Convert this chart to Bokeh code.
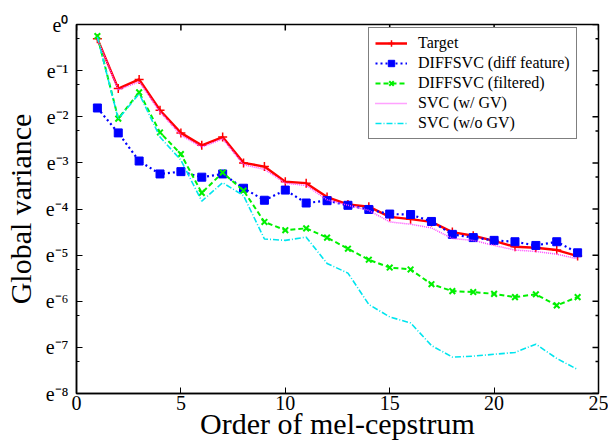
import numpy as np
from bokeh.plotting import figure
from bokeh.models import FixedTicker
from bokeh.embed import file_html
from bokeh.resources import INLINE

# Order of mel-cepstrum
order = list(range(1, 25))

# Global variance, given as natural-log exponents (value = e^x)
target = [-0.31, -1.39, -1.19, -1.86, -2.35, -2.62, -2.44, -3.00, -3.08, -3.41, -3.44, -3.74,
          -3.90, -3.95, -4.17, -4.22, -4.28, -4.50, -4.58, -4.69, -4.82, -4.84, -4.89, -5.02]
diff_feature = [-1.81, -2.35, -2.96, -3.24, -3.19, -3.31, -3.24, -3.55, -3.81, -3.59, -3.87, -3.82,
                -3.92, -4.01, -4.11, -4.12, -4.27, -4.55, -4.62, -4.68, -4.71, -4.79, -4.71, -4.95]
filtered = [-0.25, -2.04, -1.47, -2.34, -2.81, -3.65, -3.21, -3.60, -4.28, -4.46, -4.42, -4.62,
            -4.86, -5.10, -5.27, -5.31, -5.63, -5.78, -5.80, -5.84, -5.91, -5.85, -6.09, -5.91]
svc_gv = [-0.31, -1.42, -1.24, -1.90, -2.40, -2.66, -2.48, -3.04, -3.14, -3.44, -3.49, -3.80,
          -3.92, -4.03, -4.28, -4.33, -4.41, -4.64, -4.68, -4.79, -4.89, -4.92, -4.98, -5.08]
svc_nogv = [-0.27, -2.05, -1.50, -2.44, -2.94, -3.83, -3.43, -3.71, -4.65, -4.68, -4.61, -5.18,
            -5.39, -6.07, -6.34, -6.47, -6.96, -7.21, -7.19, -7.15, -7.11, -6.93, -7.24, -7.48]

x_ticks = [0, 5, 10, 15, 20, 25]
y_ticks = [0, -1, -2, -3, -4, -5, -6, -7, -8]
y_tick_labels = ["e⁰", "e⁻¹", "e⁻²", "e⁻³", "e⁻⁴", "e⁻⁵", "e⁻⁶", "e⁻⁷", "e⁻⁸"]
y_minor = [k + np.log(2) - 1 for k in y_ticks[:-1]]

FONT = "Liberation Serif"

p = figure(frame_width=522, frame_height=369, output_backend="svg", toolbar_location=None,
           x_range=(0, 25), y_range=(-8, 0),
           min_border_left=73, min_border_right=13, min_border_top=24, min_border_bottom=54)
p.xgrid.visible = False
p.ygrid.visible = False
p.outline_line_color = "black"
p.outline_line_width = 1.5

# Series
p.line(order, target, color="#ff0000", line_width=2.4, legend_label="Target")
p.scatter(order, target, marker="cross", size=9, line_color="#ff0000", line_width=1.5, legend_label="Target")

p.line(order, diff_feature, color="#0000ff", line_width=2.2, line_dash="2 3", legend_label="DIFFSVC (diff feature)")
p.scatter(order, diff_feature, marker="square", size=8, fill_color="#0000ff", line_color="#0000ff",
          legend_label="DIFFSVC (diff feature)")

p.line(order, filtered, color="#00f000", line_width=2, line_dash="5 3", legend_label="DIFFSVC (filtered)")
p.scatter(order, filtered, marker="x", size=8, line_color="#00f000", line_width=2, legend_label="DIFFSVC (filtered)")

p.line(order, svc_gv, color="#ff44ff", line_width=1.5, line_dash="1 1", legend_label="SVC (w/ GV)")

p.line(order, svc_nogv, color="#00e5ee", line_width=1.6, line_dash="6 2 1 2", legend_label="SVC (w/o GV)")

# Axes
def style_axis(ax, ticker):
    ax.ticker = ticker
    ax.major_tick_in = 6
    ax.major_tick_out = 0
    ax.minor_tick_in = 3
    ax.minor_tick_out = 0
    ax.axis_line_color = "black"
    ax.axis_line_width = 1.5
    ax.major_tick_line_color = "black"
    ax.minor_tick_line_color = "black"
    ax.major_label_text_font = FONT
    ax.major_label_text_font_size = "20px"
    ax.major_label_text_color = "black"
    ax.axis_label_text_font = FONT
    ax.axis_label_text_font_style = "normal"
    ax.axis_label_text_font_size = "30px"
    ax.axis_label_text_color = "black"

style_axis(p.xaxis[0], FixedTicker(ticks=x_ticks, minor_ticks=[]))
p.xaxis[0].axis_label = "Order of mel-cepstrum"
p.xaxis[0].major_label_standoff = 2
p.xaxis[0].axis_label_standoff = -6

style_axis(p.yaxis[0], FixedTicker(ticks=y_ticks, minor_ticks=y_minor))
p.yaxis[0].axis_label = "Global variance"
p.yaxis[0].major_label_standoff = 8
p.yaxis[0].axis_label_standoff = 6
p.yaxis[0].major_label_overrides = {t: l for t, l in zip(y_ticks, y_tick_labels)}

# Mirrored ticks on top and right edges
y_top = p.y_range.end
x_right = p.x_range.end
p.ray(x=x_ticks, y=[y_top] * len(x_ticks), length=6, length_units="screen",
      angle=-np.pi / 2, line_color="black", line_width=1.5)
p.ray(x=[x_right] * len(y_ticks), y=y_ticks, length=6, length_units="screen",
      angle=np.pi, line_color="black", line_width=1.5)
p.ray(x=[x_right] * len(y_minor), y=y_minor, length=3, length_units="screen",
      angle=np.pi, line_color="black", line_width=1.5)

# Legend
lg = p.legend[0]
lg.location = (292, 254)
lg.border_line_color = "black"
lg.border_line_width = 1
lg.background_fill_alpha = 1
lg.label_text_font = FONT
lg.label_text_font_size = "16px"
lg.label_text_color = "black"
lg.glyph_width = 32
lg.glyph_height = 16
lg.label_height = 16
lg.label_standoff = 11
lg.spacing = 2
lg.padding = 6
lg.margin = 0

open("out.html", "w").write(file_html(p, INLINE))
